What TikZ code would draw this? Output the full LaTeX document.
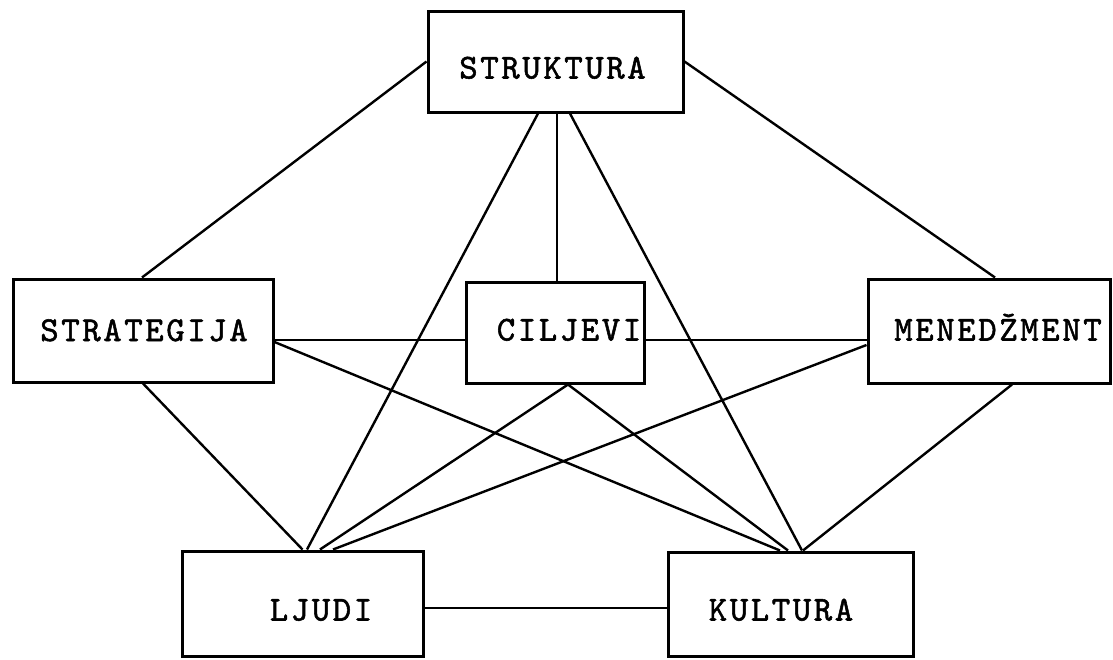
\documentclass[tikz,border=0pt]{standalone}
\usepackage{fontspec}
\newfontfamily\twfont{lmmono10-regular.otf}[LetterSpace=7.5,FakeBold=1.5]
\begin{document}
\begin{tikzpicture}[x=1pt,y=-1pt,
  boxnode/.style={draw,line width=3pt,inner sep=0pt,rectangle},
  lbl/.style={font=\twfont\fontsize{35}{42}\selectfont,text height=21pt,text depth=0pt,inner sep=0pt},
  conn/.style={line width=2.4pt}]
\useasboundingbox (0,0) rectangle (1113,659);
\node[boxnode,minimum width=255pt,minimum height=101pt,
  label={[lbl,xshift=-3pt,yshift=-6.5pt]center:STRUKTURA}] (s) at (555.5,61.5) {};
\node[boxnode,minimum width=260pt,minimum height=103pt,
  label={[lbl,xshift=1pt]center:STRATEGIJA}] (g) at (143,330.5) {};
\node[boxnode,minimum width=178pt,minimum height=101pt,
  label={[lbl,xshift=14pt,yshift=2.5pt]center:CILJEVI}] (c) at (555,332.5) {};
\node[boxnode,minimum width=242pt,minimum height=104pt,
  label={[lbl,xshift=9pt,yshift=1pt]center:MENEDŽMENT}] (m) at (989,331) {};
\node[boxnode,minimum width=241pt,minimum height=105pt,
  label={[lbl,xshift=18.5pt,yshift=-6.5pt]center:LJUDI}] (l) at (302.5,603.5) {};
\node[boxnode,minimum width=245pt,minimum height=104pt,
  label={[lbl,xshift=-9.5pt,yshift=-6pt]center:KULTURA}] (k) at (790.5,604) {};
% connectors
\draw[conn] (s.west) -- ([xshift=-1pt]g.north);
\draw[conn] (s.east) -- ([xshift=6pt]m.north);
\draw[conn] ([xshift=-17.5pt]s.south) -- ([xshift=4.5pt]l.north);
\draw[conn] ([xshift=1.5pt]s.south) -- ([xshift=2pt]c.north);
\draw[conn] ([xshift=14.5pt]s.south) -- ([xshift=11.5pt]k.north);
\draw[conn] ([yshift=-9.5pt]g.east) -- ([yshift=-7.5pt]c.west);
\draw[conn] ([yshift=-11.5pt]g.east) -- ([xshift=-10.5pt]k.north);
\draw[conn] (g.south) -- (l.north);
\draw[conn] ([yshift=-7.5pt]c.east) -- ([yshift=-9pt]m.west);
\draw[conn] ([xshift=13pt]c.south) -- ([xshift=17.5pt]l.north);
\draw[conn] ([xshift=13pt]c.south) -- ([xshift=-2.5pt]k.north);
\draw[conn] ([yshift=-14pt]m.west) -- ([xshift=30.5pt]l.north);
\draw[conn] ([xshift=23pt]m.south) -- ([xshift=12.5pt]k.north);
\draw[conn] ([yshift=-4.5pt]l.east) -- ([yshift=-4pt]k.west);
\end{tikzpicture}
\end{document}
